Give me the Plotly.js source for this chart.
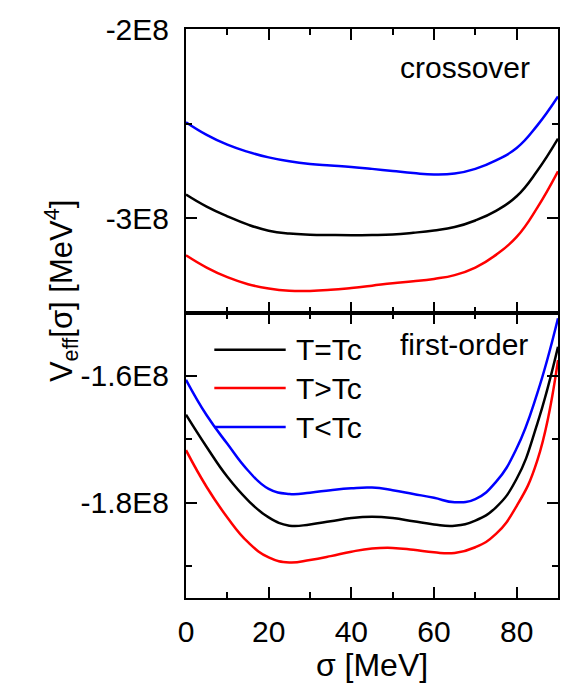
<!DOCTYPE html>
<html>
<head>
<meta charset="utf-8">
<script src="https://cdn.plot.ly/plotly-3.0.1.min.js"></script>
<style>html,body{margin:0;padding:0;background:#fff;}#chart{width:576px;height:683px;}</style>
</head>
<body>
<div id="chart"></div>
<script>
// sigma grid [MeV]
const sigma = [0,5,10,15,20,25,30,35,40,45,50,55,60,65,70,75,80,85,90];

const seriesNames = ["T=Tc", "T>Tc", "T<Tc"];
const seriesColors = ["#000000", "#ff0000", "#0000ff"];

// crossover panel (top)
const crossEq = [-2.876e8,-2.940e8,-2.991e8,-3.035e8,-3.067e8,-3.082e8,-3.088e8,-3.090e8,-3.091e8,-3.090e8,-3.087e8,-3.078e8,-3.066e8,-3.048e8,-3.013e8,-2.962e8,-2.885e8,-2.750e8,-2.580e8];
const crossGt = [-3.197e8,-3.262e8,-3.313e8,-3.350e8,-3.373e8,-3.385e8,-3.386e8,-3.380e8,-3.370e8,-3.358e8,-3.345e8,-3.335e8,-3.322e8,-3.302e8,-3.262e8,-3.195e8,-3.100e8,-2.945e8,-2.753e8];
const crossLt = [-2.493e8,-2.560e8,-2.612e8,-2.650e8,-2.679e8,-2.700e8,-2.714e8,-2.722e8,-2.730e8,-2.740e8,-2.751e8,-2.762e8,-2.770e8,-2.765e8,-2.740e8,-2.695e8,-2.630e8,-2.510e8,-2.357e8];

// first-order panel (bottom)
const firstEq = [-1.661e8,-1.712e8,-1.759e8,-1.796e8,-1.823e8,-1.836e8,-1.834e8,-1.829e8,-1.824e8,-1.822e8,-1.824e8,-1.829e8,-1.834e8,-1.836e8,-1.828e8,-1.807e8,-1.762e8,-1.675e8,-1.554e8];
const firstGt = [-1.717e8,-1.775e8,-1.823e8,-1.862e8,-1.886e8,-1.894e8,-1.890e8,-1.884e8,-1.877e8,-1.872e8,-1.871e8,-1.874e8,-1.878e8,-1.879e8,-1.870e8,-1.849e8,-1.805e8,-1.733e8,-1.575e8];
const firstLt = [-1.606e8,-1.662e8,-1.707e8,-1.749e8,-1.778e8,-1.786e8,-1.784e8,-1.780e8,-1.777e8,-1.776e8,-1.780e8,-1.786e8,-1.792e8,-1.799e8,-1.794e8,-1.767e8,-1.714e8,-1.627e8,-1.509e8];

// tick labels
const xTickVals = [0,20,40,60,80];
const xTickText = ["0","20","40","60","80"];
const topTickVals = [-3e8,-2e8];
const topTickText = ["-3E8","-2E8"];
const botTickVals = [-1.8e8,-1.6e8];
const botTickText = ["-1.8E8","-1.6E8"];

const panelLabels = ["crossover", "first-order"];

const FONT = '"Liberation Sans", Arial, sans-serif';

const topSeries = [crossEq, crossGt, crossLt];
const botSeries = [firstEq, firstGt, firstLt];

const traces = [];
topSeries.forEach((ys, i) => traces.push({
  x: sigma, y: ys, xaxis: 'x2', yaxis: 'y2', type: 'scatter', mode: 'lines',
  name: seriesNames[i], showlegend: false,
  line: {color: seriesColors[i], width: 2.5, shape: 'spline', smoothing: 1.3}
}));
botSeries.forEach((ys, i) => traces.push({
  x: sigma, y: ys, xaxis: 'x', yaxis: 'y', type: 'scatter', mode: 'lines',
  name: seriesNames[i], showlegend: false,
  line: {color: seriesColors[i], width: 2.5, shape: 'spline', smoothing: 1.3}
}));

const axCommon = {
  showgrid: false, zeroline: false, showline: true, linecolor: '#000', linewidth: 2,
  ticks: 'inside', ticklen: 11, tickwidth: 2, tickcolor: '#000', mirror: 'ticks',
  tickfont: {family: FONT, size: 30, color: '#000'}
};

const split = 0.5017;

const layout = {
  width: 576, height: 683,
  margin: {l: 186, r: 18, t: 29, b: 85, pad: 0},
  paper_bgcolor: '#fff', plot_bgcolor: '#fff',
  showlegend: false,
  font: {family: FONT, color: '#000'},
  xaxis: Object.assign({}, axCommon, {
    anchor: 'y', domain: [0, 1], range: [0, 90],
    tickvals: xTickVals, ticktext: xTickText, ticklabelstandoff: 6,
    minor: {tickvals: [10,30,50,70], ticks: 'inside', ticklen: 6, tickwidth: 2, tickcolor: '#000'},
    title: {text: 'σ [MeV]', font: {family: FONT, size: 32, color: '#000'}, standoff: 5}
  }),
  xaxis2: Object.assign({}, axCommon, {
    anchor: 'y2', matches: 'x', domain: [0, 1], range: [0, 90],
    tickvals: xTickVals, showticklabels: false,
    minor: {tickvals: [10,30,50,70], ticks: 'inside', ticklen: 6, tickwidth: 2, tickcolor: '#000'}
  }),
  yaxis: Object.assign({}, axCommon, {
    anchor: 'x', domain: [0, split], range: [-1.95e8, -1.5e8],
    tickvals: botTickVals, ticktext: botTickText, ticklabelstandoff: 9,
    minor: {tickvals: [-1.9e8, -1.7e8], ticks: 'inside', ticklen: 6, tickwidth: 2, tickcolor: '#000'}
  }),
  yaxis2: Object.assign({}, axCommon, {
    anchor: 'x2', domain: [split, 1], range: [-3.5e8, -2e8],
    tickvals: topTickVals, ticktext: topTickText, ticklabelstandoff: 9,
    minor: {tickvals: [-2.5e8], ticks: 'inside', ticklen: 6, tickwidth: 2, tickcolor: '#000'}
  }),
  annotations: [
    {text: panelLabels[0], xref: 'paper', yref: 'paper', x: 0.93, y: 0.932, xanchor: 'right', yanchor: 'middle',
     showarrow: false, font: {family: FONT, size: 30, color: '#000'}},
    {text: panelLabels[1], xref: 'paper', yref: 'paper', x: 0.925, y: 0.4458, xanchor: 'right', yanchor: 'middle',
     showarrow: false, font: {family: FONT, size: 30, color: '#000'}},
    {text: 'V<sub>eff</sub>[σ] [MeV<sup>4</sup>]', xref: 'paper', yref: 'paper', x: -0.335, y: 0.54,
     xanchor: 'center', yanchor: 'middle', textangle: -90, showarrow: false,
     font: {family: FONT, size: 31, color: '#000'}}
  ],
  shapes: []
};

// manual legend inside bottom panel
const legendY = [0.4361, 0.3689, 0.3004];
seriesNames.forEach((nm, i) => {
  layout.shapes.push({type: 'line', xref: 'paper', yref: 'paper', x0: 0.0761, x1: 0.268,
    y0: legendY[i], y1: legendY[i], line: {color: seriesColors[i], width: 2.5}});
  layout.annotations.push({text: nm, xref: 'paper', yref: 'paper', x: 0.29, y: legendY[i],
    xanchor: 'left', yanchor: 'middle', showarrow: false,
    font: {family: FONT, size: 30, color: '#000'}});
});

Plotly.newPlot('chart', traces, layout, {staticPlot: true, displayModeBar: false});
</script>
</body>
</html>
